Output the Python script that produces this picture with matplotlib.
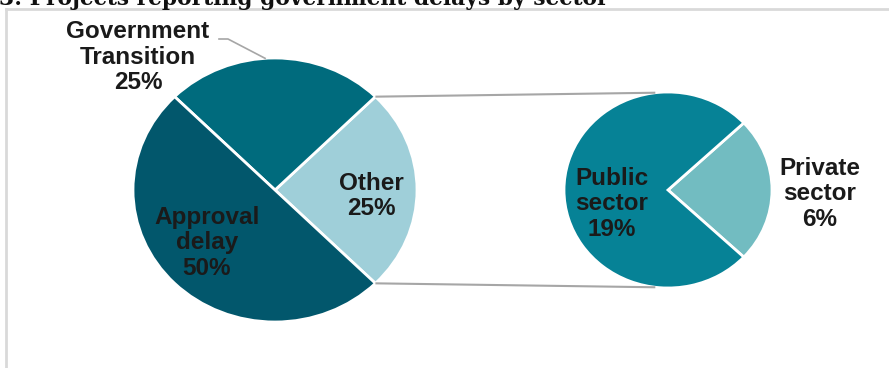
import numpy as np
import matplotlib.pyplot as plt

W, H = 889, 368

titulo = '3: Projects reporting government delays by sector'

main_labels = ['Other', 'Government\nTransition', 'Approval\ndelay']
main_values = [25, 25, 50]
main_colors = ['#9fcfd9', '#006b7d', '#02576c']

sub_labels = ['Private\nsector', 'Public\nsector']
sub_values = [6, 19]
sub_colors = ['#72bcc1', '#068296']

# centro y radios (px) de cada pastel, un poco estirados en horizontal como el original
big = dict(cx=275, cy=190, rx=142, ry=132)
small = dict(cx=668, cy=190, rx=104, ry=98)

fig = plt.figure(figsize=(W / 100, H / 100), dpi=100)


def pie_axes(g):
    ax = fig.add_axes([(g['cx'] - g['rx']) / W, (H - g['cy'] - g['ry']) / H,
                       2 * g['rx'] / W, 2 * g['ry'] / H])
    return ax


ax1 = pie_axes(big)
start1 = -main_values[0] / sum(main_values) * 180
ax1.pie(main_values, colors=main_colors, startangle=start1, counterclock=True,
        wedgeprops=dict(edgecolor='white', linewidth=2))
ax1.set_aspect('auto')
ax1.set_xlim(-1, 1)
ax1.set_ylim(-1, 1)

ax2 = pie_axes(small)
start2 = -sub_values[0] / sum(sub_values) * 180
ax2.pie(sub_values, colors=sub_colors, startangle=start2, counterclock=True,
        wedgeprops=dict(edgecolor='white', linewidth=2))
ax2.set_aspect('auto')
ax2.set_xlim(-1, 1)
ax2.set_ylim(-1, 1)

# capa en pixeles para textos y lineas
ov = fig.add_axes([0, 0, 1, 1], zorder=5)
ov.set_xlim(0, W)
ov.set_ylim(H, 0)
ov.axis('off')
ov.patch.set_alpha(0)


def punto(g, ang):
    a = np.radians(ang)
    return g['cx'] + g['rx'] * np.cos(a), g['cy'] - g['ry'] * np.sin(a)


# lineas de conexion entre "Other" y el pastel secundario
a_top = start1 + main_values[0] / sum(main_values) * 360
a_bot = start1
for a1, a2 in [(a_top, 97), (a_bot, -97)]:
    x1, y1 = punto(big, a1)
    x2, y2 = punto(small, a2)
    ov.plot([x1, x2], [y1, y2], color='#a6a6a6', lw=1.5, solid_capstyle='butt')

# marco del grafico
ov.plot([6, W + 5], [9, 9], color='#d9d9d9', lw=2)
ov.plot([6, 6], [9, H + 5], color='#d9d9d9', lw=2)

# titulo cortado arriba, como en el original
t = ov.text(-1, 5, titulo, fontfamily='DejaVu Serif', fontweight='bold',
            fontsize=16, va='baseline', ha='left', color='#111111')
fig.canvas.draw()
w = t.get_window_extent().width
t.set_fontsize(16 * 608 / w)

estilo = dict(fontfamily='Liberation Sans', fontweight='bold', fontsize=17.5,
              color='#1a1a1a', ha='center', va='center', linespacing=1.12)

# etiquetas
pos_main = [(371, 196), (138, 57), (207, 243)]
for lab, val, (x, y) in zip(main_labels, main_values, pos_main):
    ov.text(x, y, f'{lab}\n{val}%', **estilo)

pos_sub = [(820, 194), (612, 204)]
for lab, val, (x, y) in zip(sub_labels, sub_values, pos_sub):
    ov.text(x, y, f'{lab}\n{val}%', **estilo)

# linea guia de "Government Transition"
gx, gy = punto(big, 94)
ov.plot([219, 228, gx], [39, 39, gy], color='#a6a6a6', lw=1.2)

fig.savefig('out.png', dpi=100)
